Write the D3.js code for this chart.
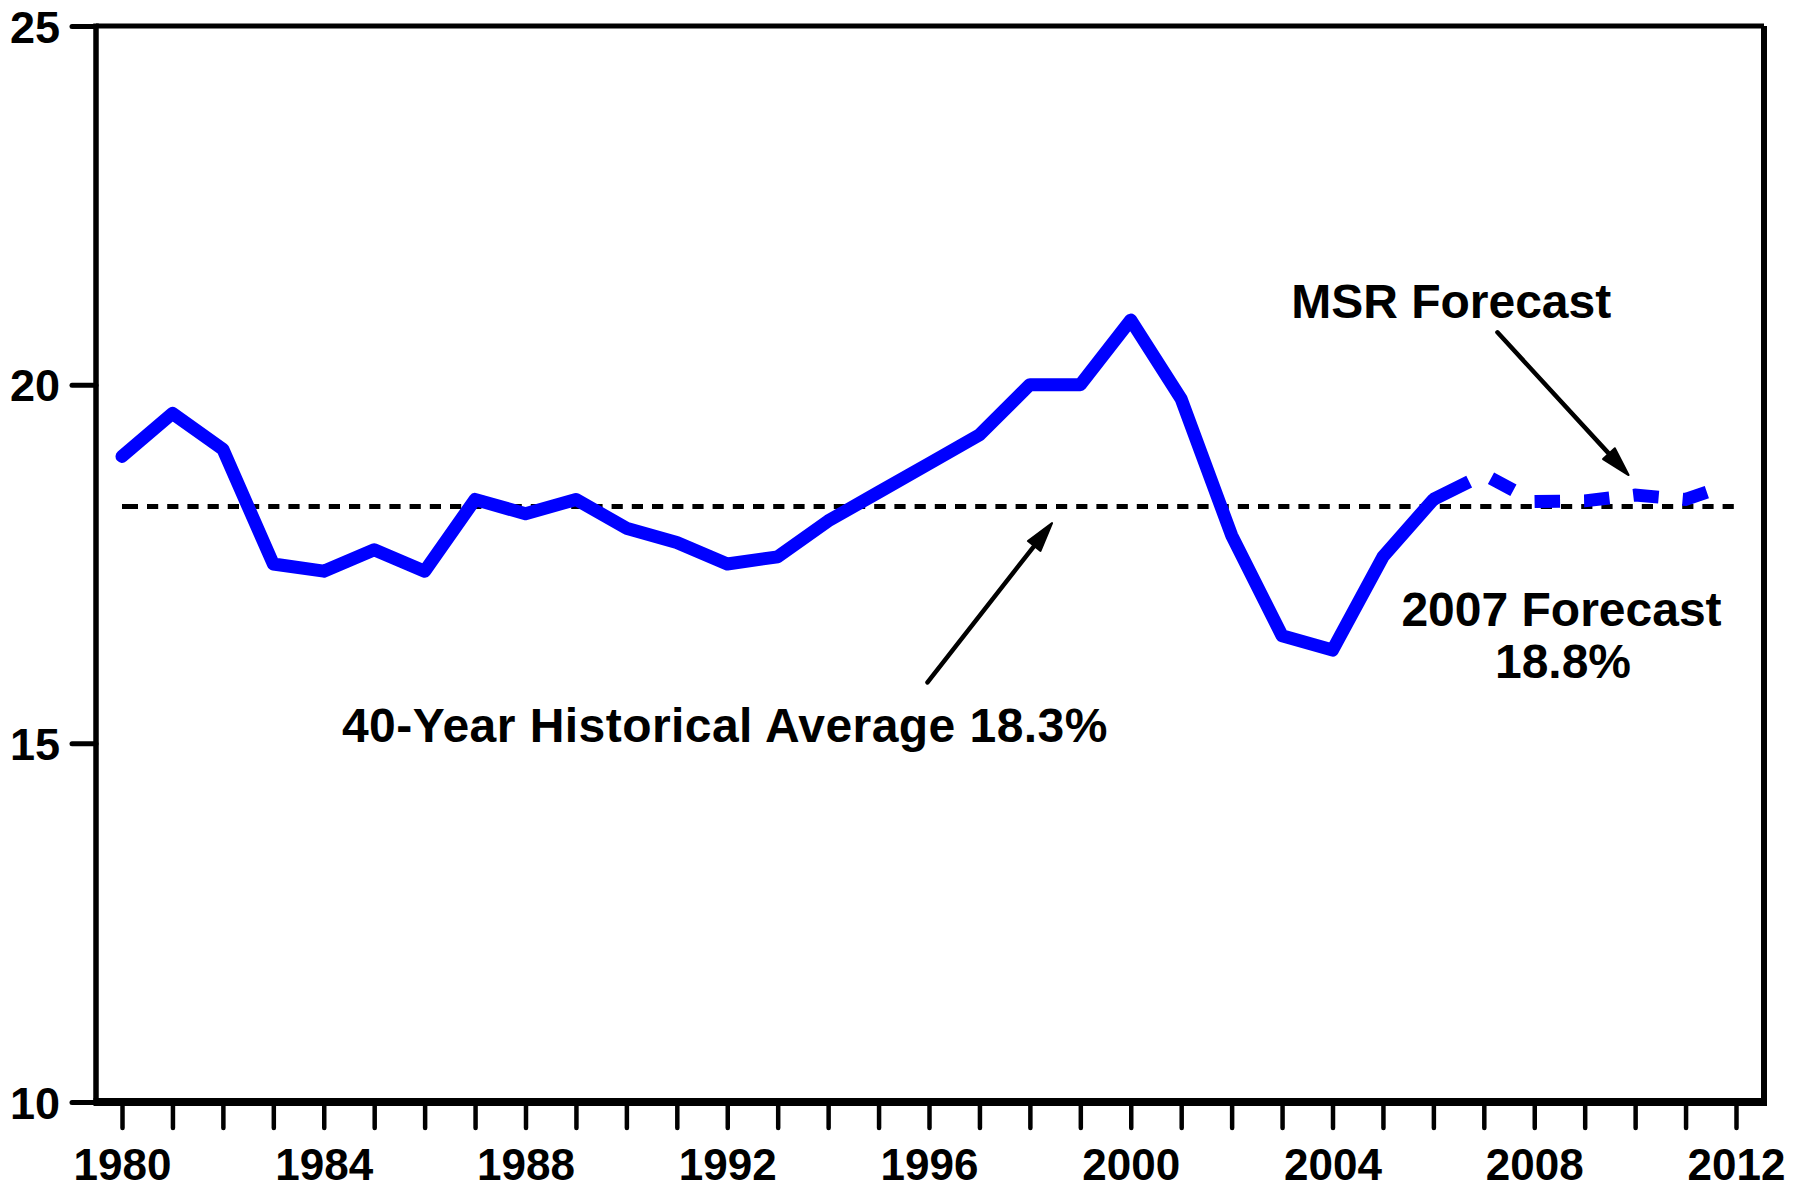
<!DOCTYPE html>
<html>
<head>
<meta charset="utf-8">
<script src="https://cdn.jsdelivr.net/npm/d3@7"></script>
<style>
  body { margin: 0; background: #fff; }
  text { font-family: Arial, 'Liberation Sans', sans-serif; font-weight: bold; fill: #000; }
</style>
</head>
<body>
<div id="chart"></div>
<script>
// actual receipts, % of GDP
const actualYears = [1980, 1981, 1982, 1983, 1984, 1985, 1986, 1987, 1988, 1989,
  1990, 1991, 1992, 1993, 1994, 1995, 1996, 1997, 1998, 1999,
  2000, 2001, 2002, 2003, 2004, 2005, 2006]
const actualValues = [19.0, 19.6, 19.1, 17.5, 17.4, 17.7, 17.4, 18.4, 18.2, 18.4,
  18.0, 17.8, 17.5, 17.6, 18.1, 18.5, 18.9, 19.3, 20.0, 20.0,
  20.9, 19.8, 17.9, 16.5, 16.3, 17.6, 18.4]

// MSR forecast (dashed)
const forecastYears = [2006, 2007, 2008, 2009, 2010, 2011, 2011.5]
const forecastValues = [18.4, 18.75, 18.37, 18.38, 18.46, 18.4, 18.52]

// 40-year average
const averageValue = 18.3
const averageYears = [1980, 2012]

const yTicks = [10, 15, 20, 25]
const xTicks = [1980, 1981, 1982, 1983, 1984, 1985, 1986, 1987, 1988, 1989, 1990,
  1991, 1992, 1993, 1994, 1995, 1996, 1997, 1998, 1999, 2000, 2001, 2002, 2003,
  2004, 2005, 2006, 2007, 2008, 2009, 2010, 2011, 2012]
const xLabels = [1980, 1984, 1988, 1992, 1996, 2000, 2004, 2008, 2012]

const labels = [
  { text: 'MSR Forecast', year: 2003.18, value: 20.93, anchor: 'start', spacing: 0 },
  { text: '40-Year Historical Average 18.3%', year: 1984.36, value: 15.02, anchor: 'start', spacing: 0.45 },
  { text: '2007 Forecast', year: 2008.54, value: 16.63, anchor: 'middle', spacing: 0 },
  { text: '18.8%', year: 2008.57, value: 15.91, anchor: 'middle', spacing: 0 }
]
const arrows = [
  { fromYear: 1995.97, fromValue: 15.85, toYear: 1998.44, toValue: 18.07 },
  { fromYear: 2007.27, fromValue: 20.73, toYear: 2009.87, toValue: 18.74 }
]

let width = 1812
let height = 1190
let margin = { top: 26, left: 96, right: 48, bottom: 88 }

let svg = d3.select('#chart')
  .append('svg')
  .attr('width', width)
  .attr('height', height)

let plotLeft = margin.left
let plotRight = width - margin.right
let plotTop = margin.top
let plotBottom = height - margin.bottom

let xPositionScale = d3.scaleLinear()
  .domain([1980, 2012])
  .range([plotLeft + 26, plotRight - 28])

let yPositionScale = d3.scaleLinear()
  .domain([10, 25])
  .range([plotBottom, plotTop])

// frame
svg.append('line')
  .attr('x1', plotLeft).attr('x2', plotRight)
  .attr('y1', plotTop).attr('y2', plotTop)
  .attr('stroke', '#000').attr('stroke-width', 5)
svg.append('line')
  .attr('x1', plotRight).attr('x2', plotRight)
  .attr('y1', plotTop).attr('y2', plotBottom + 4)
  .attr('stroke', '#000').attr('stroke-width', 6)
svg.append('line')
  .attr('x1', plotLeft).attr('x2', plotLeft)
  .attr('y1', plotTop - 2.5).attr('y2', plotBottom)
  .attr('stroke', '#000').attr('stroke-width', 5.5)
svg.append('line')
  .attr('x1', plotLeft - 2.5).attr('x2', plotRight + 3)
  .attr('y1', plotBottom).attr('y2', plotBottom)
  .attr('stroke', '#000').attr('stroke-width', 8)

// y axis
let yAxis = d3.axisLeft(yPositionScale)
  .tickValues(yTicks)
  .tickSize(24)
  .tickPadding(12)
svg.append('g')
  .attr('class', 'axis y-axis')
  .attr('transform', `translate(${plotLeft},0)`)
  .call(yAxis)
svg.select('.y-axis .domain').remove()
svg.selectAll('.y-axis .tick line')
  .attr('stroke', '#000')
  .attr('stroke-width', 5)
  .attr('stroke-linecap', 'round')
svg.selectAll('.y-axis .tick text')
  .attr('font-size', 45)
  .attr('dy', '0.36em')
  .attr('font-family', null)

// x axis
let xAxis = d3.axisBottom(xPositionScale)
  .tickValues(xTicks)
  .tickSize(26)
  .tickPadding(21)
  .tickFormat(d => (xLabels.includes(d) ? d : ''))
svg.append('g')
  .attr('class', 'axis x-axis')
  .attr('transform', `translate(0,${plotBottom})`)
  .call(xAxis)
svg.select('.x-axis .domain').remove()
svg.selectAll('.x-axis .tick line')
  .attr('stroke', '#000')
  .attr('stroke-width', 4.5)
  .attr('stroke-linecap', 'round')
svg.selectAll('.x-axis .tick text')
  .attr('font-size', 44)
  .attr('font-family', null)

// average line
let avgDash = [16, 9]
for (let i = 0; i < 90; i++) avgDash.push(11.2, 9)
svg.append('line')
  .attr('class', 'average')
  .attr('x1', xPositionScale(averageYears[0]))
  .attr('x2', xPositionScale(averageYears[1]))
  .attr('y1', yPositionScale(averageValue))
  .attr('y2', yPositionScale(averageValue))
  .attr('stroke', '#000')
  .attr('stroke-width', 5)
  .attr('stroke-dasharray', avgDash.join(' '))

let line = d3.line()
  .x(d => xPositionScale(d[0]))
  .y(d => yPositionScale(d[1]))

let actual = actualYears.map((y, i) => [y, actualValues[i]])
let forecast = forecastYears.map((y, i) => [y, forecastValues[i]])

// forecast, dashed
let fcDash = [40, 24.5]
for (let i = 0; i < 10; i++) fcDash.push(25.5, 24)
svg.append('path')
  .datum(forecast)
  .attr('class', 'forecast')
  .attr('d', line)
  .attr('fill', 'none')
  .attr('stroke', '#0000ff')
  .attr('stroke-width', 13)
  .attr('stroke-dasharray', fcDash.join(' '))

// actual, solid
svg.append('path')
  .datum(actual)
  .attr('class', 'actual')
  .attr('d', line)
  .attr('fill', 'none')
  .attr('stroke', '#0000ff')
  .attr('stroke-width', 13)
  .attr('stroke-linejoin', 'round')
  .attr('stroke-linecap', 'round')

// arrows
arrows.forEach(a => {
  let x1 = xPositionScale(a.fromYear)
  let y1 = yPositionScale(a.fromValue)
  let x2 = xPositionScale(a.toYear)
  let y2 = yPositionScale(a.toValue)
  let ang = Math.atan2(y2 - y1, x2 - x1)
  let headLen = 29
  let headHalf = 8
  let bx = x2 - headLen * Math.cos(ang)
  let by = y2 - headLen * Math.sin(ang)
  svg.append('line')
    .attr('x1', x1).attr('y1', y1)
    .attr('x2', bx + 4 * Math.cos(ang)).attr('y2', by + 4 * Math.sin(ang))
    .attr('stroke', '#000')
    .attr('stroke-width', 4.5)
    .attr('stroke-linecap', 'round')
  let px = -Math.sin(ang) * headHalf
  let py = Math.cos(ang) * headHalf
  svg.append('path')
    .attr('d', `M${x2},${y2}L${bx + px},${by + py}L${bx - px},${by - py}Z`)
    .attr('fill', '#000')
    .attr('stroke', '#000')
    .attr('stroke-width', 2)
    .attr('stroke-linejoin', 'round')
})

// labels
svg.selectAll('.note')
  .data(labels)
  .enter()
  .append('text')
  .attr('class', 'note')
  .attr('x', d => xPositionScale(d.year))
  .attr('y', d => yPositionScale(d.value))
  .attr('text-anchor', d => d.anchor)
  .attr('letter-spacing', d => d.spacing)
  .attr('font-size', 48)
  .text(d => d.text)
</script>
</body>
</html>
